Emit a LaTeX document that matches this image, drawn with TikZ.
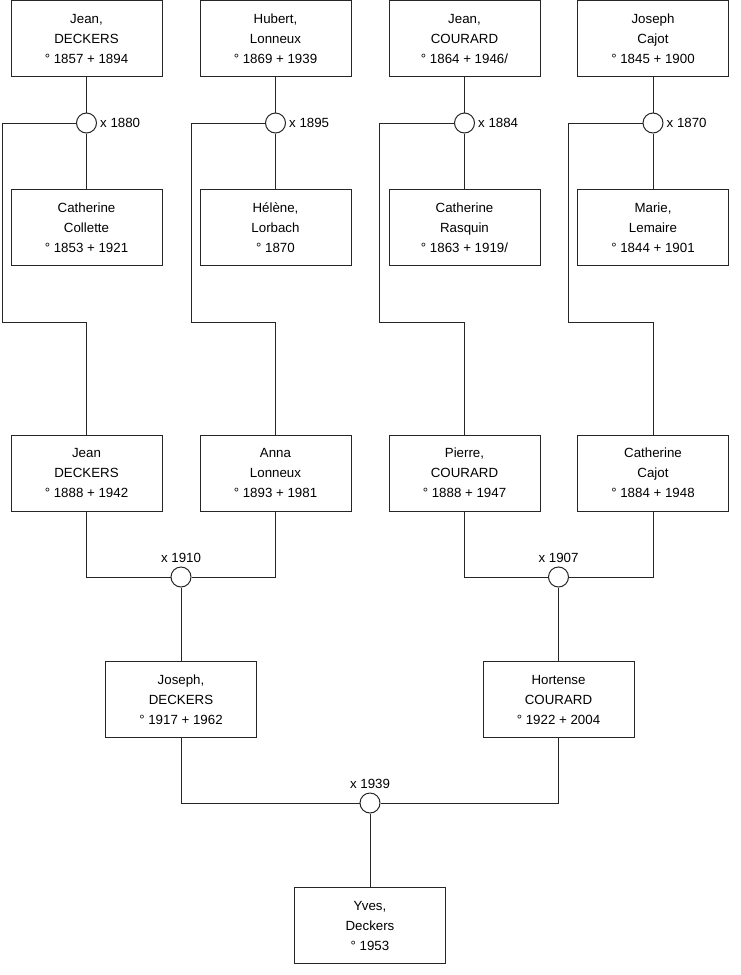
\documentclass[tikz,border=0pt]{standalone}
\usepackage{fontspec}
\setmainfont{Liberation Sans}
\tikzset{
  personne/.style={draw=black!85, line width=1pt, minimum width=151pt, minimum height=76pt,
    inner sep=0pt, align=center, font=\fontsize{13.3}{20}\selectfont},
  union/.style={circle, draw=black!85, line width=1pt, fill=white, minimum size=20pt, inner sep=0pt},
  mariage/.style={font=\fontsize{13.3}{16}\selectfont, inner sep=0pt},
  lien/.style={draw=black!85, line width=1pt}
}
\begin{document}
\begin{tikzpicture}[x=1pt, y=-1pt]
    \useasboundingbox (0,0) rectangle (740,975);

    % arrière-grands-parents (hommes)
    \node[personne] (jeanD1) at (86.5,38.5) {Jean,\\DECKERS\\° 1857 + 1894};
    \node[personne] (hubertL) at (275.5,38.5) {Hubert,\\Lonneux\\° 1869 + 1939};
    \node[personne] (jeanC1) at (464.5,38.5) {Jean,\\COURARD\\° 1864 + 1946/};
    \node[personne] (josephC) at (653,38.5) {Joseph\\Cajot\\° 1845 + 1900};

    % mariages
    \node[union, label={[mariage, label distance=3pt]east:x 1880}] (m1880) at (86.5,123) {};
    \node[union, label={[mariage, label distance=3pt]east:x 1895}] (m1895) at (275.5,123) {};
    \node[union, label={[mariage, label distance=3pt]east:x 1884}] (m1884) at (464.5,123) {};
    \node[union, label={[mariage, label distance=3pt]east:x 1870}] (m1870) at (653,123) {};

    % arrière-grands-parents (femmes)
    \node[personne] (catC) at (86.5,227.5) {Catherine\\Collette\\° 1853 + 1921};
    \node[personne] (heleneL) at (275.5,227.5) {Hélène,\\Lorbach\\° 1870};
    \node[personne] (catR) at (464.5,227.5) {Catherine\\Rasquin\\° 1863 + 1919/};
    \node[personne] (marieL) at (653,227.5) {Marie,\\Lemaire\\° 1844 + 1901};

    % grands-parents
    \node[personne] (jeanD2) at (86.5,473) {Jean\\DECKERS\\° 1888 + 1942};
    \node[personne] (annaL) at (275.5,473) {Anna\\Lonneux\\° 1893 + 1981};
    \node[personne] (pierreC) at (464.5,473) {Pierre,\\COURARD\\° 1888 + 1947};
    \node[personne] (catCajot) at (653,473) {Catherine\\Cajot\\° 1884 + 1948};

    \node[union, label={[mariage, label distance=4pt]north:x 1910}] (m1910) at (181,577) {};
    \node[union, label={[mariage, label distance=4pt]north:x 1907}] (m1907) at (558.5,577) {};

    % parents
    \node[personne] (josephD) at (181,699.5) {Joseph,\\DECKERS\\° 1917 + 1962};
    \node[personne] (hortenseC) at (558.5,699.5) {Hortense\\COURARD\\° 1922 + 2004};

    \node[union, label={[mariage, label distance=4pt]north:x 1939}] (m1939) at (370,803) {};

    \node[personne] (yvesD) at (370,925.5) {Yves,\\Deckers\\° 1953};

    % coudes des lignes de descendance
    \coordinate (coude1) at (2,322);
    \coordinate (coude2) at (191,322);
    \coordinate (coude3) at (379,322);
    \coordinate (coude4) at (568,322);

    % couples du haut
    \draw[lien] (jeanD1) -- (m1880) -- (catC);
    \draw[lien] (hubertL) -- (m1895) -- (heleneL);
    \draw[lien] (jeanC1) -- (m1884) -- (catR);
    \draw[lien] (josephC) -- (m1870) -- (marieL);

    % enfants
    \draw[lien] (m1880.west) -| (coude1) -| (jeanD2.north);
    \draw[lien] (m1895.west) -| (coude2) -| (annaL.north);
    \draw[lien] (m1884.west) -| (coude3) -| (pierreC.north);
    \draw[lien] (m1870.west) -| (coude4) -| (catCajot.north);

    % deuxième génération
    \draw[lien] (jeanD2.south) |- (m1910.west);
    \draw[lien] (annaL.south) |- (m1910.east);
    \draw[lien] (m1910) -- (josephD);
    \draw[lien] (pierreC.south) |- (m1907.west);
    \draw[lien] (catCajot.south) |- (m1907.east);
    \draw[lien] (m1907) -- (hortenseC);

    % troisième génération
    \draw[lien] (josephD.south) |- (m1939.west);
    \draw[lien] (hortenseC.south) |- (m1939.east);
    \draw[lien] (m1939) -- (yvesD);
\end{tikzpicture}
\end{document}
